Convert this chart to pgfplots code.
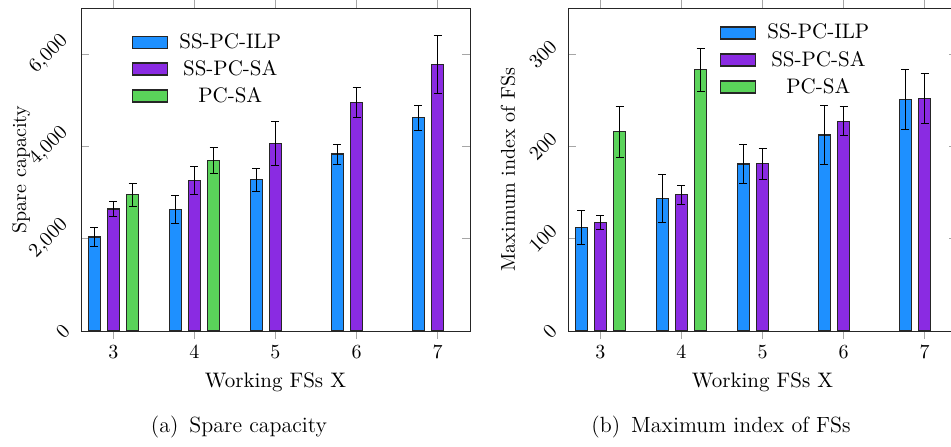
\documentclass[border=0pt]{standalone}
\usepackage{pgfplots}
\pgfplotsset{compat=1.18}
\definecolor{cILP}{HTML}{1E90FF}
\definecolor{cSA}{HTML}{8A2BE2}
\definecolor{cPC}{HTML}{5AD35A}
\pgfplotsset{
  mybarlegend/.style={legend image code/.code={\draw[##1,line width=0.6pt] (0pt,-3pt) rectangle (17.5pt,3pt);\path (21pt,0pt);}},
  eb/.style={error bars/y dir=both, error bars/y explicit,
    error bars/error mark options={rotate=90, mark size=2pt, black, line width=0.5pt},
    error bars/error bar style={black, line width=0.5pt}},
  common/.style={
    width=194.5pt, height=161.5pt, scale only axis,
    xmin=2.6, xmax=7.4, ymin=0,
    xtick={3,4,5,6,7},
    xtick align=outside, ytick align=inside,
    major tick length=4pt,
    tick style={gray!70, thin},
    axis line style={black!85},
    ybar, bar width=6pt,
    xlabel={Working FSs X},
    yticklabel style={rotate=45, anchor=near yticklabel},
    tick label style={font=\fontsize{10}{12}\selectfont},
    label style={font=\fontsize{10.5}{12}\selectfont},
    every axis y label/.style={at={(axis description cs:-0.154,0.5)}, rotate=90, anchor=center},
    legend cell align=center,
    legend style={draw=none, fill=none, font=\fontsize{10.5}{12}\selectfont, anchor=north west, row sep=0.5pt},
  },
}
\begin{document}
\begin{tikzpicture}
\begin{axis}[common, at={(0pt,0pt)}, anchor=south west,
  ymax=7000, ytick={0,2000,4000,6000},
  ylabel={Spare capacity},
  legend style={at={(0.115,0.948)}}]
\addplot[fill=cILP, draw=black!85, line width=0.6pt, bar shift=-9.6pt, mybarlegend, eb]
  coordinates {(3,2036) +- (0,200) (4,2628) +- (0,300) (5,3278) +- (0,250) (6,3834) +- (0,215) (7,4621) +- (0,270)};
\addplot[fill=cSA, draw=black!85, line width=0.6pt, bar shift=0pt, mybarlegend, eb]
  coordinates {(3,2643) +- (0,165) (4,3264) +- (0,300) (5,4065) +- (0,470) (6,4953) +- (0,320) (7,5776) +- (0,620)};
\addplot[fill=cPC, draw=black!85, line width=0.6pt, bar shift=9.6pt, mybarlegend, eb]
  coordinates {(3,2953) +- (0,250) (4,3697) +- (0,280)};
\legend{SS-PC-ILP, SS-PC-SA, PC-SA}
\end{axis}
\begin{axis}[common, at={(243.5pt,0pt)}, anchor=south west,
  ymax=350, ytick={0,100,200,300},
  ylabel={Maximum index of FSs},
  legend style={at={(0.375,0.976)}}]
\addplot[fill=cILP, draw=black!85, line width=0.6pt, bar shift=-9.6pt, mybarlegend, eb]
  coordinates {(3,111.9) +- (0,18.5) (4,144) +- (0,26) (5,180.9) +- (0,21) (6,212.3) +- (0,31.6) (7,250.9) +- (0,33)};
\addplot[fill=cSA, draw=black!85, line width=0.6pt, bar shift=0pt, mybarlegend, eb]
  coordinates {(3,117.7) +- (0,8) (4,147.7) +- (0,10.5) (5,181.2) +- (0,17) (6,227.4) +- (0,15.5) (7,252.3) +- (0,27)};
\addplot[fill=cPC, draw=black!85, line width=0.6pt, bar shift=9.6pt, mybarlegend, eb]
  coordinates {(3,215.9) +- (0,27.6) (4,283) +- (0,23)};
\legend{SS-PC-ILP, SS-PC-SA, PC-SA}
\end{axis}
\node[font=\fontsize{11}{13}\selectfont] at (79pt,-48pt) {(a)\enspace Spare capacity};
\node[font=\fontsize{11}{13}\selectfont] at (320pt,-48pt) {(b)\enspace Maximum index of FSs};
\pgfresetboundingbox
\useasboundingbox (-40.5pt,-57.5pt) rectangle (435pt,165.5pt);
\end{tikzpicture}
\end{document}
